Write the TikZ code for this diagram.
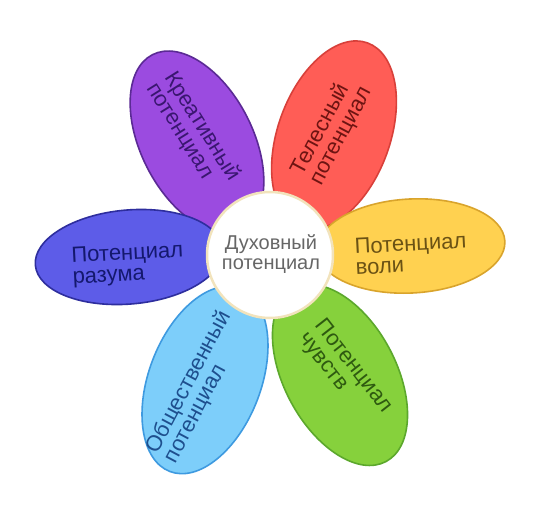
\documentclass[tikz,border=0pt]{standalone}
\usepackage{fontspec}
\setmainfont{Liberation Sans}
\usetikzlibrary{shapes.geometric}
\definecolor{purpF}{HTML}{9B4BE0}
\definecolor{purpD}{HTML}{5B2A95}
\definecolor{purpT}{HTML}{3A1670}
\definecolor{redF}{HTML}{FF5D56}
\definecolor{redD}{HTML}{D8403A}
\definecolor{redT}{HTML}{6E1412}
\definecolor{yelF}{HTML}{FFD150}
\definecolor{yelD}{HTML}{D9A42C}
\definecolor{yelT}{HTML}{6B5214}
\definecolor{bluF}{HTML}{5D5CE8}
\definecolor{bluD}{HTML}{2E2E9E}
\definecolor{bluT}{HTML}{14186E}
\definecolor{lbF}{HTML}{7DCEFA}
\definecolor{lbD}{HTML}{3E9AE0}
\definecolor{lbT}{HTML}{1E4F8E}
\definecolor{grnF}{HTML}{86D13C}
\definecolor{grnD}{HTML}{5CA82C}
\definecolor{grnT}{HTML}{2E5A10}
\definecolor{ringC}{HTML}{F2E3BC}
\definecolor{centT}{HTML}{666666}
\begin{document}
\begin{tikzpicture}[x=1pt,y=1pt,
  petal/.style={ellipse, inner sep=0pt, line width=1.6pt, minimum width=196pt, minimum height=112pt},
  hpetal/.style={ellipse, inner sep=0pt, line width=1.6pt, minimum width=188pt, minimum height=94pt},
  lbl/.style={align=left, font=\fontsize{22}{21}\selectfont, inner sep=0pt}]
\useasboundingbox (0,0) rectangle (536,-509);
\fill[white] (0,0) rectangle (536,-509);
% petals
\node[petal, fill=grnF, draw=grnD, rotate=-62] (green) at (340,-375) {};
\node[petal, fill=lbF, draw=lbD, rotate=69] (lblue) at (205,-380) {};
\node[petal, fill=redF, draw=redD, rotate=70] (red) at (334,-135) {};
\node[hpetal, fill=yelF, draw=yelD, rotate=3] (yellow) at (411,-246) {};
\node[petal, fill=purpF, draw=purpD, rotate=-63] (purple) at (197,-142) {};
\node[hpetal, fill=bluF, draw=bluD, rotate=5] (blue) at (129,-257) {};
% center
\node[circle, fill=white, draw=ringC, line width=2.5pt, minimum size=126pt, inner sep=0pt] (center) at (270,-255) {};
% labels
\node[lbl, text=centT, align=center, font=\fontsize{20}{19.5}\selectfont] (tc) at (271,-254) {Духовный\\потенциал};
\node[lbl, text=purpT, rotate=-58] (tp) at (193,-132) {Креативный\\потенциал};
\node[lbl, text=redT, rotate=62] (tr) at (332,-131) {Телесный\\потенциал};
\node[lbl, text=bluT, rotate=3] (tb) at (128,-265) {Потенциал\\разума};
\node[lbl, text=yelT, rotate=3] (ty) at (411,-254) {Потенциал\\воли};
\node[lbl, text=lbT, rotate=62] (tl) at (198,-387) {Общественный\\потенциал};
\node[lbl, text=grnT, rotate=-52] (tg) at (345,-373) {Потенциал\\чувств};
\end{tikzpicture}
\end{document}
